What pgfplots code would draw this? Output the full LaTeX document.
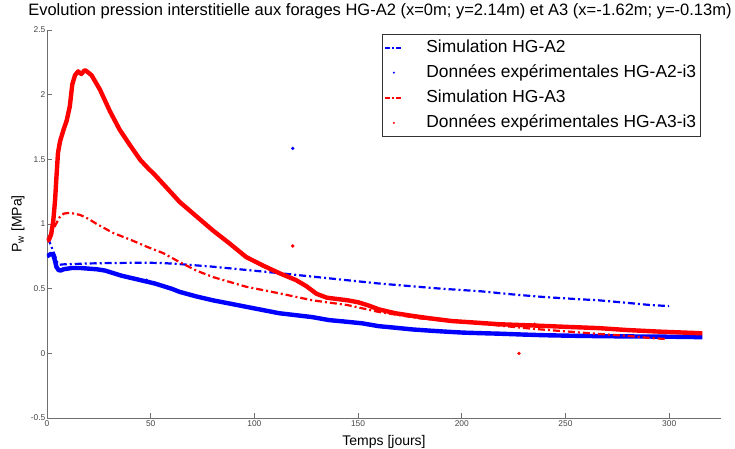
\documentclass[border=0pt]{standalone}
\usepackage{pgfplots}
\pgfplotsset{compat=1.18}
\usepackage{fontspec}
\setmainfont{Liberation Sans}

\definecolor{axgray}{RGB}{110,110,110}
\definecolor{lblgray}{RGB}{70,70,70}

\begin{document}
\begin{tikzpicture}
\begin{axis}[
    at={(0pt,0pt)}, anchor=south west,
    scale only axis,
    width=674pt, height=388pt,
    xmin=0, xmax=325, ymin=-0.5, ymax=2.5,
    axis x line*=bottom, axis y line*=left,
    axis line style={axgray, line width=0.8pt, -},
    tick style={axgray, line width=0.6pt},
    tick align=inside,
    major tick length=5pt,
    xtick={0,50,100,150,200,250,300},
    xticklabels={0,50,100,150,200,250,300},
    ytick={-0.5,0,0.5,1,1.5,2,2.5},
    yticklabels={-0.5,0,0.5,1,1.5,2,2.5},
    ticklabel style={font=\fontsize{8.4}{9}\selectfont, text=lblgray},
    xticklabel style={inner sep=1.5pt, yshift=-1pt},
    yticklabel style={inner sep=1.5pt},
    title={Evolution pression interstitielle aux forages HG-A2 (x=0m; y=2.14m) et A3 (x=-1.62m; y=-0.13m)},
    title style={at={(axis description cs:0.494,1.0232)}, anchor=base, font=\fontsize{16.5}{18}\selectfont, inner sep=0pt},
    xlabel={Temps [jours]},
    xlabel style={at={(axis description cs:0.5,-0.0696)}, anchor=base, font=\fontsize{14}{16}\selectfont, inner sep=0pt},
    ylabel={P\textsubscript{w} [MPa]},
    ylabel style={at={(axis description cs:-0.043,0.5)}, anchor=center, font=\fontsize{14}{16}\selectfont, inner sep=0pt},
    legend style={at={(axis description cs:0.497,0.990)}, anchor=north west,
        draw=black!80, line width=0.8pt, font=\fontsize{17.4}{20}\selectfont,
        nodes={inner sep=2pt, text height=12.8pt, text depth=3.8pt},
        row sep=4.5pt, column sep=21pt, inner xsep=2pt, inner ysep=3pt},
    legend cell align=left,
]
% Simulation HG-A2
\addplot[blue, line width=2.2pt, dash pattern=on 7pt off 3pt on 2pt off 3pt,
    legend image code/.code={\draw[blue, line width=2pt, dash pattern=on 5pt off 2pt on 1.5pt off 2pt] (0pt,0pt) -- (17pt,0pt);}]
coordinates {(0,0.89) (1,0.87) (2,0.83) (3,0.79) (4,0.75) (5,0.70) (6,0.685) (8,0.688) (12,0.69) (20,0.695) (30,0.698) (40,0.70) (50,0.70) (56,0.698) (64,0.69) (72,0.68) (80,0.67) (96,0.645) (112,0.62) (130,0.59) (145,0.565) (160,0.54) (175,0.52) (190,0.50) (209,0.48) (225,0.455) (240,0.435) (255,0.42) (266,0.41) (280,0.39) (290,0.375) (300,0.365)};
\addlegendentry{Simulation HG-A2}
% Donnees HG-A2-i3
\addplot[blue, line width=4.4pt, line join=round,
    legend image code/.code={\fill[blue, draw=none, line width=0pt] (8.5pt,0pt) circle (1.1pt);}]
coordinates {(0,0.75) (1,0.76) (2,0.77) (3,0.76) (3.8,0.72) (4.5,0.67) (5.5,0.645) (6.5,0.64) (8,0.65) (12,0.66) (16,0.66) (20,0.655) (24,0.65) (28,0.64) (32,0.62) (36,0.60) (40,0.585) (44,0.57) (48,0.555) (52,0.54) (56,0.52) (60,0.50) (64,0.475) (72,0.44) (80,0.41) (88,0.385) (96,0.36) (104,0.335) (112,0.31) (120,0.295) (128,0.28) (136,0.257) (144,0.245) (152,0.232) (160,0.21) (168,0.198) (176,0.185) (185,0.175) (193,0.167) (201,0.16) (209,0.156) (218,0.152) (230,0.145) (240,0.14) (253,0.136) (266,0.133) (278,0.131) (290,0.13) (303,0.128) (316,0.125)};
\addlegendentry{Données expérimentales HG-A2-i3}
% Simulation HG-A3
\addplot[red, line width=2.2pt, dash pattern=on 7pt off 3pt on 2pt off 3pt,
    legend image code/.code={\draw[red, line width=2pt, dash pattern=on 5pt off 2pt on 1.5pt off 2pt] (0pt,0pt) -- (17pt,0pt);}]
coordinates {(0,0.876) (2,0.93) (4,0.99) (6,1.05) (8,1.08) (11,1.087) (16,1.07) (20,1.04) (24,1.0) (32,0.93) (40,0.88) (48,0.825) (56,0.775) (64,0.705) (72,0.64) (80,0.59) (96,0.515) (112,0.464) (128,0.41) (145,0.373) (160,0.32) (170,0.295) (180,0.27) (200,0.24) (215,0.22) (234,0.19) (250,0.17) (266,0.15) (280,0.135) (290,0.12) (299,0.11)};
\addlegendentry{Simulation HG-A3}
% Donnees HG-A3-i3
\addplot[red, line width=4.4pt, line join=round,
    legend image code/.code={\fill[red, draw=none, line width=0pt] (8.5pt,0pt) circle (1.1pt);}]
coordinates {(0,0.87) (1,0.88) (2,0.92) (3,1.02) (3.9,1.185) (4.5,1.35) (5.3,1.55) (6.3,1.64) (8,1.73) (9.5,1.80) (11,1.91) (12.2,2.08) (13.5,2.15) (15,2.18) (16.5,2.16) (18.3,2.19) (20,2.17) (21.5,2.15) (25.5,2.04) (30.4,1.87) (35,1.73) (40,1.61) (45,1.495) (48.8,1.43) (52,1.38) (56,1.31) (60,1.24) (64,1.17) (72,1.06) (80,0.95) (88,0.85) (96,0.745) (104,0.68) (112,0.62) (120,0.567) (125,0.52) (130,0.46) (135,0.43) (140,0.42) (145,0.41) (150,0.395) (155,0.37) (160,0.34) (168,0.31) (176,0.29) (185,0.27) (195,0.25) (209,0.235) (218,0.225) (235,0.215) (250,0.205) (266,0.195) (280,0.18) (295,0.168) (316,0.155)};
\addlegendentry{Données expérimentales HG-A3-i3}
% isolated measurements
\addplot[only marks, blue, mark=*, mark size=1.5pt, forget plot]
coordinates {(118.5,1.585) (48,0.565)};
\addplot[only marks, red, mark=*, mark size=1.5pt, forget plot]
coordinates {(118.5,0.83) (227.6,0.0) (48,1.44) (235,0.225)};
\end{axis}
\pgfresetboundingbox
\path (-47pt,-30pt) rectangle (688pt,418pt);
\end{tikzpicture}
\end{document}
